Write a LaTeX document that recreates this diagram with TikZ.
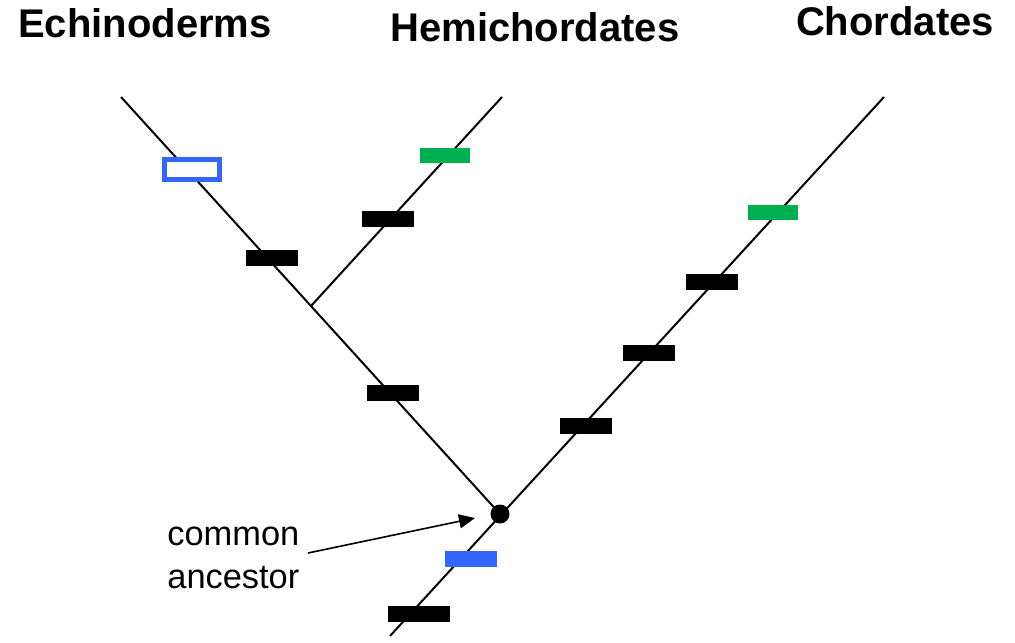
\documentclass[tikz,border=0pt]{standalone}
\usepackage{fontspec}
\setmainfont{Liberation Sans}
\usepackage{xcolor}
\usetikzlibrary{arrows.meta,positioning}

\definecolor{trait blue}{HTML}{3366FF}
\definecolor{trait green}{HTML}{00B050}

\begin{document}
\begin{tikzpicture}[
    x=0.5pt, y=-0.5pt,
    branch/.style={line width=1pt, black},
    trait/.style={rectangle, minimum width=26pt, minimum height=8pt, inner sep=0pt},
    gained/.style={trait, fill=black},
    lost/.style={trait, draw=trait blue, fill=white, line width=2.5pt, minimum width=27.5pt, minimum height=10pt},
    taxon/.style={font=\fontsize{20}{24}\selectfont\bfseries, anchor=base},
    pointer/.style={-{Triangle[length=8pt,width=7pt]}, line width=0.8pt}
]
\useasboundingbox (0,0) rectangle (1015,642);

% Taxa at the tips
\node[taxon] (echi) at (145,38) {Echinoderms};
\node[taxon] (hemi) at (535,42) {Hemichordates};
\node[taxon] (chor) at (895,36) {Chordates};

% Branch end points
\coordinate (root) at (390,636);
\coordinate (tipE) at (121,97);
\coordinate (tipH) at (502,97);
\coordinate (tipC) at (884,97);
\coordinate (split) at (311,306);
\node[circle, fill=black, inner sep=0pt, minimum size=9.5pt] (anc) at (500,514) {};

% Tree
\draw[branch] (root) -- (tipC);
\draw[branch] (anc.center) -- (tipE);
\draw[branch] (split) -- (tipH);

% Characters along the branches
\node[lost] (e1) at (191.5,169) {};
\node[gained] (e2) at (272,258) {};
\node[gained] (e3) at (393,393) {};

\node[trait, fill=trait green, minimum width=25pt, minimum height=7.5pt] (h1) at (445,155) {};
\node[gained] (h2) at (388,219) {};

\node[trait, fill=trait green, minimum width=25pt, minimum height=7.5pt] (c1) at (773,212) {};
\node[gained] (c2) at (712,282) {};
\node[gained] (c3) at (649,353) {};
\node[gained] (c4) at (586,426) {};
\node[trait, fill=trait blue] (c5) at (471,558.5) {};
\node[gained, minimum width=31pt] (c6) at (419,613.5) {};

% Label for the ancestor
\node[font=\fontsize{17.2}{21.5}\selectfont, align=left, anchor=north west, inner sep=0pt] (anclabel) at (167,527) {common\\ancestor};
\coordinate (ptr) at (308,553);
\coordinate (ptrend) at (475,518);
\draw[pointer] (ptr) -- (ptrend);

\end{tikzpicture}
\end{document}
